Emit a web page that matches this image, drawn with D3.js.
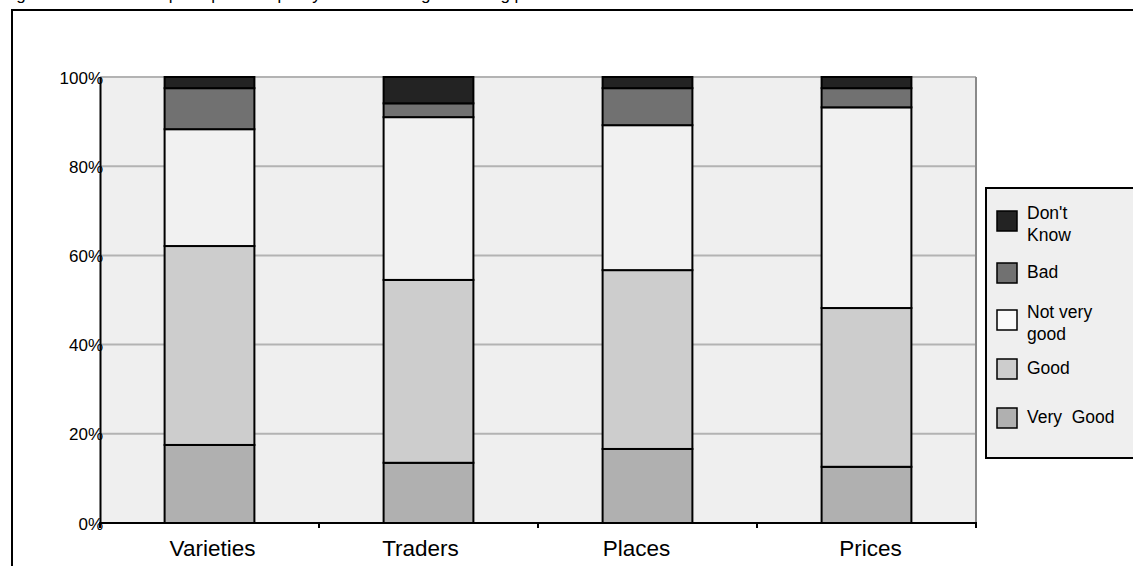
<!DOCTYPE html>
<html>
<head>
<meta charset="utf-8">
<script src="https://cdn.jsdelivr.net/npm/d3@7"></script>
<style>
  html, body { margin: 0; padding: 0; background: #fff; }
  svg { display: block; font-family: "Liberation Sans", Arial, sans-serif; }
</style>
</head>
<body>
<svg id="chart" width="1133" height="566"></svg>
<script>
// Categories along the x axis
const categories = ["Varieties", "Traders", "Places", "Prices"];

// Stacked series, bottom to top (percent of respondents)
const seriesNames = ["Very Good", "Good", "Not very good", "Bad", "Don't Know"];
const veryGood   = [17.5, 13.5, 16.6, 12.6];
const good       = [44.6, 41.0, 40.1, 35.6];
const notVeryGood= [26.2, 36.5, 32.5, 45.0];
const bad        = [ 9.2,  3.1,  8.3,  4.3];
const dontKnow   = [ 2.5,  5.9,  2.5,  2.5];

const yTicks = [0, 20, 40, 60, 80, 100];
const legendLabels = [["Don't", "Know"], ["Bad"], ["Not very", "good"], ["Good"], ["Very  Good"]];

// small horizontal nudges of the category captions
const labelShift = [3, -8, -11, 4];

const fills = {
  "Very Good": "#b0b0b0",
  "Good": "#cdcdcd",
  "Not very good": "#f1f1f1",
  "Bad": "#717171",
  "Don't Know": "#232323"
};

const rows = categories.map((c, i) => ({
  category: c,
  "Very Good": veryGood[i],
  "Good": good[i],
  "Not very good": notVeryGood[i],
  "Bad": bad[i],
  "Don't Know": dontKnow[i]
}));

const svg = d3.select("#chart");

// Outer frame (runs off the right and bottom edges)
svg.append("rect")
  .attr("x", 12).attr("y", 10)
  .attr("width", 1200).attr("height", 620)
  .attr("fill", "#fff").attr("stroke", "#000").attr("stroke-width", 2);

// Caption line above the frame
svg.append("text")
  .attr("x", 2).attr("y", 0)
  .attr("font-size", 17)
  .text("Figure 6: Consumers' perception of quality of the existing marketing places");

const plot = { left: 100, right: 976, top: 77, bottom: 523 };

const x = d3.scaleBand()
  .domain(categories)
  .range([plot.left, plot.right])
  .paddingInner(0.59)
  .paddingOuter(0.295);

const y = d3.scaleLinear().domain([0, 100]).range([plot.bottom, plot.top]);

// Plot background
svg.append("rect")
  .attr("x", plot.left).attr("y", plot.top)
  .attr("width", plot.right - plot.left).attr("height", plot.bottom - plot.top)
  .attr("fill", "#efefef");

// Horizontal gridlines
svg.append("g")
  .selectAll("line")
  .data(yTicks.filter(t => t > 0))
  .join("line")
  .attr("x1", plot.left).attr("x2", plot.right)
  .attr("y1", d => y(d)).attr("y2", d => y(d))
  .attr("stroke", "#b3b3b3").attr("stroke-width", 2);

// Right border of plot area
svg.append("line")
  .attr("x1", plot.right).attr("x2", plot.right)
  .attr("y1", plot.top).attr("y2", plot.bottom)
  .attr("stroke", "#8a8a8a").attr("stroke-width", 2);

// Stacked bars
const stack = d3.stack().keys(seriesNames);
const layers = stack(rows);

svg.append("g")
  .selectAll("g")
  .data(layers)
  .join("g")
  .attr("fill", d => fills[d.key])
  .selectAll("rect")
  .data(d => d)
  .join("rect")
  .attr("x", d => x(d.data.category))
  .attr("y", d => y(d[1]))
  .attr("width", x.bandwidth())
  .attr("height", d => y(d[0]) - y(d[1]))
  .attr("stroke", "#000")
  .attr("stroke-width", 2);

// Y axis
const yAxis = d3.axisLeft(y)
  .tickValues(yTicks)
  .tickSize(0)
  .tickPadding(-3)
  .tickFormat(d => d + "%");

const yG = svg.append("g")
  .attr("transform", `translate(${plot.left},0)`)
  .call(yAxis);
yG.select(".domain").attr("stroke", "#000").attr("stroke-width", 2);
yG.selectAll("text")
  .attr("font-size", 17)
  .attr("font-family", "Liberation Sans, Arial, sans-serif")
  .attr("fill", "#000")
  .attr("dy", "0.36em");

// X axis with boundary ticks between categories
svg.append("line")
  .attr("x1", plot.left - 1).attr("x2", plot.right + 1)
  .attr("y1", plot.bottom).attr("y2", plot.bottom)
  .attr("stroke", "#000").attr("stroke-width", 2);

const boundaries = categories.map(c => x(c) - x.step() * x.paddingOuter()).concat([plot.right]);
svg.append("g")
  .selectAll("line")
  .data(boundaries)
  .join("line")
  .attr("x1", d => d).attr("x2", d => d)
  .attr("y1", plot.bottom).attr("y2", plot.bottom + 5)
  .attr("stroke", "#000").attr("stroke-width", 2);

svg.append("g")
  .selectAll("text")
  .data(categories)
  .join("text")
  .attr("x", (d, i) => x(d) + x.bandwidth() / 2 + labelShift[i])
  .attr("y", 556)
  .attr("text-anchor", "middle")
  .attr("font-size", 22.5)
  .text(d => d);

// Legend
const legend = svg.append("g");
legend.append("rect")
  .attr("x", 986).attr("y", 188)
  .attr("width", 160).attr("height", 270)
  .attr("fill", "#efefef")
  .attr("stroke", "#000").attr("stroke-width", 2);

const legendKeys = seriesNames.slice().reverse();
const swatchY = [211, 263, 310, 359, 408];
legendKeys.forEach((k, i) => {
  legend.append("rect")
    .attr("x", 997).attr("y", swatchY[i])
    .attr("width", 20).attr("height", 20)
    .attr("fill", k === "Not very good" ? "#fafafa" : fills[k])
    .attr("stroke", "#000").attr("stroke-width", 1.5);
  const lines = legendLabels[i];
  const t = legend.append("text")
    .attr("x", 1027)
    .attr("font-size", 17.5)
    .attr("xml:space", "preserve")
    .style("white-space", "pre");
  if (lines.length === 1) {
    t.attr("y", swatchY[i] + 15).text(lines[0]);
  } else {
    lines.forEach((ln, j) => {
      t.append("tspan")
        .attr("x", 1027)
        .attr("y", swatchY[i] + 8 + j * 22)
        .text(ln);
    });
  }
});
</script>
</body>
</html>
